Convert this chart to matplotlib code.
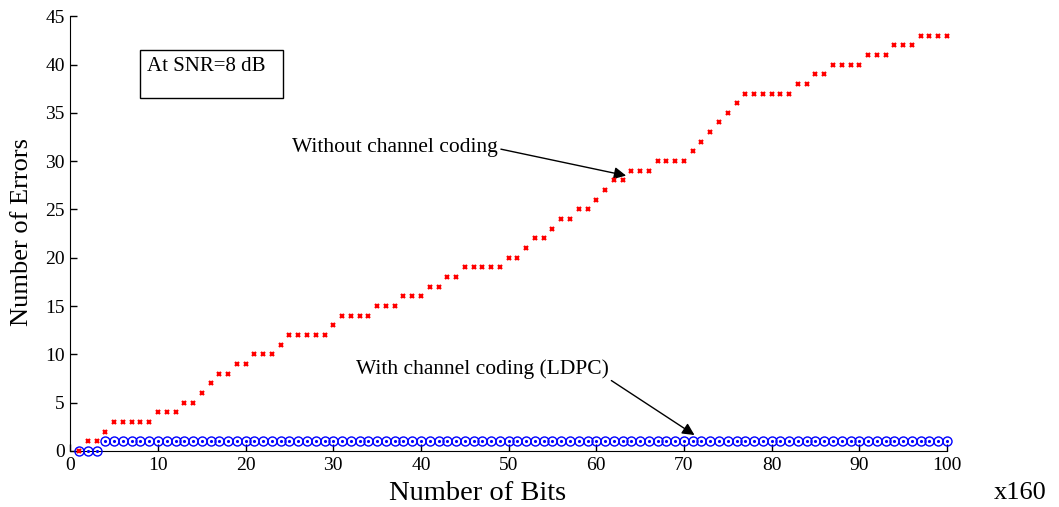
import matplotlib
matplotlib.use("Agg")
import matplotlib.pyplot as plt
from matplotlib.patches import Rectangle
import numpy as np

plt.rcParams['font.family'] = ['Liberation Serif', 'DejaVu Serif']

bits = list(range(1, 101))
# red: without channel coding, as runs (value, count)
runs_uncoded = [(0, 1), (1, 2), (2, 1), (3, 5), (4, 3), (5, 2), (6, 1), (7, 1), (8, 2), (9, 2),
                (10, 3), (11, 1), (12, 5), (13, 1), (14, 4), (15, 3), (16, 3), (17, 2), (18, 2),
                (19, 5), (20, 2), (21, 1), (22, 2), (23, 1), (24, 2), (25, 2), (26, 1), (27, 1),
                (28, 2), (29, 3), (30, 4), (31, 1), (32, 1), (33, 1), (34, 1), (35, 1), (36, 1),
                (37, 6), (38, 2), (39, 2), (40, 4), (41, 3), (42, 3), (43, 4)]
errors_uncoded = [v for v, c in runs_uncoded for _ in range(c)]
errors_ldpc = [0, 0, 0] + [1] * 97

fig = plt.figure(figsize=(10.59, 5.07), dpi=100)
ax = fig.add_axes([0.0664, 0.1105, 0.8278, 0.8575])

ax.plot(bits, errors_ldpc, linestyle='none', marker='o', markersize=6.5,
        markerfacecolor='none', markeredgecolor='#0000ff', markeredgewidth=1.0, clip_on=False, zorder=3)
ax.plot(bits, errors_ldpc, linestyle='none', marker='.', markersize=2.5,
        color='#0000ff', clip_on=False, zorder=3)
ax.plot(bits, errors_uncoded, linestyle='none', marker='x', markersize=3.5,
        markeredgecolor='#ff0000', markeredgewidth=1.6, clip_on=False, zorder=4)

ax.set_xlim(0, 100)
ax.set_ylim(0, 45)
ax.set_xticks(np.arange(0, 101, 10))
ax.set_yticks(np.arange(0, 46, 5))
ax.spines['top'].set_visible(False)
ax.spines['right'].set_visible(False)
ax.tick_params(direction='in', length=5, labelsize=14, width=1, pad=4)

fig.text(478 / 1059, 1 - 493 / 507, 'Number of Bits', fontsize=20.5, ha='center', va='center')
fig.text(22 / 1059, 1 - 232 / 507, 'Number of Errors', fontsize=19, ha='center', va='center',
         rotation=90)
fig.text(1020 / 1059, 1 - 493 / 507, 'x160', fontsize=19, ha='center', va='center')

ax.add_patch(Rectangle((0.0795, 0.8115), 0.1631, 0.1103, transform=ax.transAxes,
                       facecolor='white', edgecolor='black', linewidth=1, zorder=5))
ax.text(0.0877, 0.885, 'At SNR=8 dB', transform=ax.transAxes, fontsize=15,
        va='center', ha='left', zorder=6)

ax.annotate('Without channel coding', xy=(63.4, 28.5), xytext=(48.8, 31.4),
            fontsize=15.5, ha='right', va='center',
            arrowprops=dict(arrowstyle='-|>', color='black', lw=1, mutation_scale=18,
                            relpos=(1.0, 0.45), shrinkA=0, shrinkB=0))
ax.annotate('With channel coding (LDPC)', xy=(71.2, 1.65), xytext=(61.4, 8.5),
            fontsize=15.5, ha='right', va='center',
            arrowprops=dict(arrowstyle='-|>', color='black', lw=1, mutation_scale=18,
                            relpos=(1.0, 0.0), shrinkA=0, shrinkB=0))

fig.savefig('out.png', dpi=100)
